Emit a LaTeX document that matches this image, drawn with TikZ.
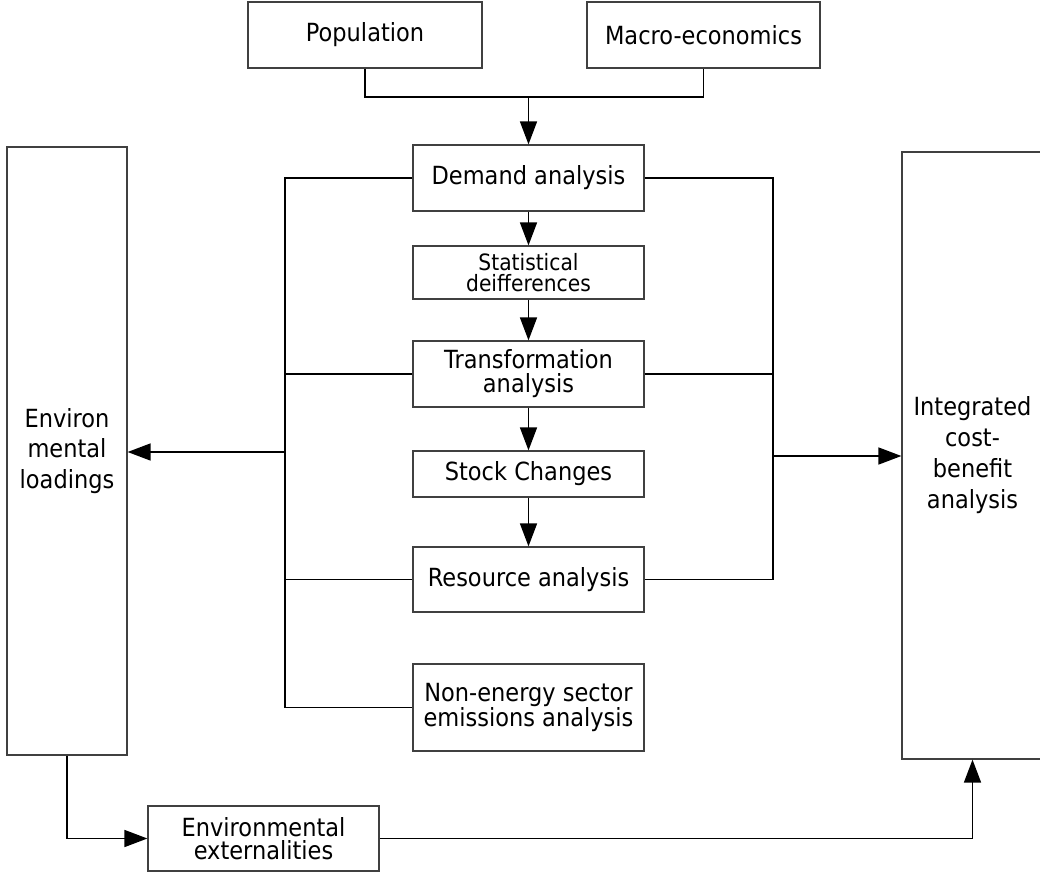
\documentclass[tikz,border=0pt]{standalone}
\usepackage{fontspec}
\setmainfont[FakeStretch=0.9]{DejaVu Sans}
\usetikzlibrary{arrows.meta}
\tikzset{
  box/.style={draw=black!75, line width=1.2bp, rectangle, inner sep=0pt, align=center,
    font=\fontsize{25bp}{30bp}\selectfont},
  conn/.style={draw=black, line width=1.5bp},
  arr/.style={conn, -{Triangle[length=23bp,width=17bp]}},
}
\begin{document}
\begin{tikzpicture}[x=1bp, y=-1bp]
\useasboundingbox (0,0) rectangle (1040,873);

% inputs
\node[box, minimum width=234bp, minimum height=66bp] (pop) at (365,35) {Population};
\node[box, minimum width=233bp, minimum height=66bp] (mac) at (703.5,35) {Macro-economics};

% central chain
\node[box, minimum width=231bp, minimum height=66bp] (dem) at (528.5,178) {Demand analysis};
\node[box, minimum width=231bp, minimum height=53bp,
      font=\fontsize{22.5bp}{20.7bp}\selectfont] (stat) at (528.5,272.5) {Statistical\\deifferences};
\node[box, minimum width=231bp, minimum height=66bp,
      font=\fontsize{25bp}{24bp}\selectfont] (trans) at (528.5,374) {Transformation\\analysis};
\node[box, minimum width=231bp, minimum height=46bp] (stock) at (528.5,474) {Stock Changes};
\node[box, minimum width=231bp, minimum height=65bp] (res) at (528.5,579.5) {Resource analysis};
\node[box, minimum width=231bp, minimum height=87bp,
      font=\fontsize{25bp}{21.7bp}\selectfont] (non) at (528.5,707.5) {Non-energy sector\\emissions analysis};

% side columns
\node[box, minimum width=120bp, minimum height=608bp,
      font=\fontsize{25bp}{30.5bp}\selectfont] (env) at (67,451) {Environ\\mental\\loadings};
\node[box, minimum width=141bp, minimum height=607bp,
      font=\fontsize{25bp}{31bp}\selectfont] (icb) at (972.5,455.5) {Integrated\\cost-\\benefit\\analysis};

% bottom
\node[box, minimum width=231bp, minimum height=65bp,
      font=\fontsize{25bp}{23bp}\selectfont] (ext) at (263.5,838.5) {Environmental\\externalities};

% bus coordinates
\coordinate (pj) at (365,97);
\coordinate (mj) at (703.5,97);
\coordinate (tj) at (528.5,97);
\coordinate (lt) at (285,178);
\coordinate (lb) at (285,707.5);
\coordinate (la) at (285,452);
\coordinate (rt) at (773,178);
\coordinate (rb) at (773,579.5);
\coordinate (ra) at (773,456);
\coordinate (bl) at (67,838.5);
\coordinate (br) at (972.5,838.5);

% top merge
\draw[conn] (pop.south) -- (pj) -- (mj) -- (mac.south);
\draw[arr] (tj) -- (dem.north);

% chain arrows
\draw[arr] (dem.south) -- (stat.north);
\draw[arr] (stat.south) -- (trans.north);
\draw[arr] (trans.south) -- (stock.north);
\draw[arr] (stock.south) -- (res.north);

% left bus
\draw[conn] (dem.west) -- (lt) -- (lb) -- (non.west);
\draw[conn] (trans.west) -- (trans.west -| lt);
\draw[conn] (res.west) -- (res.west -| lt);
\draw[arr] (la) -- (env.east |- la);

% right bus
\draw[conn] (dem.east) -- (rt) -- (rb) -- (res.east);
\draw[conn] (trans.east) -- (trans.east -| rt);
\draw[arr] (ra) -- (icb.west |- ra);

% bottom loop
\draw[arr] (env.south) -- (bl) -- (ext.west);
\draw[arr] (ext.east) -- (br) -- (icb.south);
\end{tikzpicture}
\end{document}
